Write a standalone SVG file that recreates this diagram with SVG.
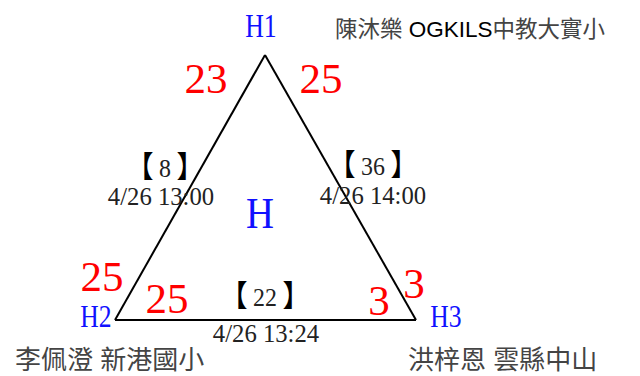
<svg xmlns="http://www.w3.org/2000/svg" width="640" height="376" viewBox="0 0 640 376">
<style>
.hl{font-family:"Liberation Serif","Times New Roman",serif;fill:#1010ff}
.sc{font-family:"Liberation Serif","Times New Roman",serif;font-size:43px;fill:#ff0000;text-anchor:middle}
.lb{font-family:"Liberation Serif","Noto Sans CJK TC",serif;font-size:26px;fill:#222;text-anchor:middle}
.br{font-family:"Noto Sans CJK TC",sans-serif;font-size:30px;fill:#000}
.nm{font-family:"Liberation Sans","Noto Sans CJK TC",sans-serif;font-size:26px;fill:#444}
.nt{font-family:"Liberation Sans","Noto Sans CJK TC",sans-serif;font-size:22.5px;fill:#444}
.edge{stroke:#000;stroke-width:2;fill:none}
</style>
<rect width="640" height="376" fill="#fff"/>
<g id="connectors">
<line class="edge" x1="265" y1="55" x2="115" y2="320"/>
<line class="edge" x1="265" y1="55" x2="416" y2="320"/>
<line class="edge" x1="115" y1="320" x2="416" y2="320"/>
<text class="lb" transform="translate(165,177) scale(0.92,1)"><tspan class="br">【</tspan><tspan dx="6">8</tspan><tspan class="br" dx="6">】</tspan></text>
<text class="lb" transform="translate(161,205) scale(0.95,1)">4/26 13:00</text>
<text class="lb" transform="translate(373,175) scale(0.92,1)"><tspan class="br">【</tspan><tspan dx="6">36</tspan><tspan class="br" dx="6">】</tspan></text>
<text class="lb" transform="translate(373,204) scale(0.95,1)">4/26 14:00</text>
<text class="lb" transform="translate(265,306) scale(0.92,1)"><tspan class="br">【</tspan><tspan dx="6">22</tspan><tspan class="br" dx="6">】</tspan></text>
<text class="lb" transform="translate(266,342) scale(0.95,1)">4/26 13:24</text>
</g>
<g id="H1">
<text class="hl" font-size="34" text-anchor="middle" transform="translate(261,37) scale(0.76,1)">H1</text>
<text class="sc" x="206" y="93">23</text>
<text class="sc" x="321" y="93">25</text>
<text class="nt" x="335" y="37">陳沐樂 <tspan fill="#000">OGKILS</tspan>中教大實小</text>
</g>
<g id="H2">
<text class="hl" font-size="32" text-anchor="middle" transform="translate(96,327) scale(0.8,1)">H2</text>
<text class="sc" x="102" y="291">25</text>
<text class="sc" x="167" y="313">25</text>
<text class="nm" x="15" y="369">李佩澄 新港國小</text>
</g>
<g id="H3">
<text class="hl" font-size="32" text-anchor="middle" transform="translate(446,327) scale(0.8,1)">H3</text>
<text class="sc" x="379" y="315">3</text>
<text class="sc" x="414" y="298">3</text>
<text class="nm" x="408" y="369">洪梓恩 雲縣中山</text>
</g>
<g id="H">
<text class="hl" font-size="44" text-anchor="middle" transform="translate(260,228) scale(0.88,1)">H</text>
</g>
</svg>
